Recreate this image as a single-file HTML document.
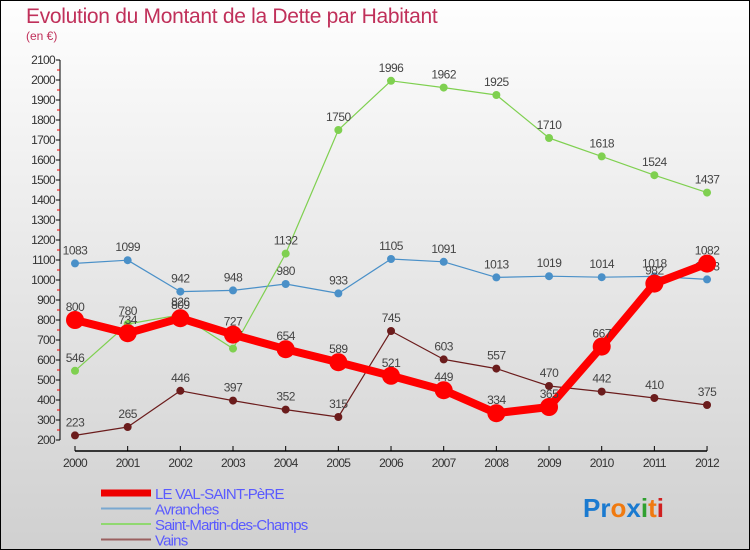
<!DOCTYPE html>
<html><head><meta charset="utf-8"><style>
body{margin:0}
#c{width:750px;height:550px;position:relative;box-sizing:border-box;border:1px solid #000;background:linear-gradient(#fefefe,#d0d0d0);font-family:"Liberation Sans",sans-serif;overflow:hidden}
</style></head><body>
<div id="c">
<svg id="s" width="748" height="548" style="position:absolute;left:0;top:0"></svg>
</div>
<script>
const years=[2000,2001,2002,2003,2004,2005,2006,2007,2008,2009,2010,2011,2012];
const valSaintPere=[800,734,809,727,654,589,521,449,334,365,667,982,1082];
const avranches=[1083,1099,942,948,980,933,1105,1091,1013,1019,1014,1018,1003];
const saintMartin=[546,780,826,657,1132,1750,1996,1962,1925,1710,1618,1524,1437];
const vains=[223,265,446,397,352,315,745,603,557,470,442,410,375];
const yTicks=[200,300,400,500,600,700,800,900,1000,1100,1200,1300,1400,1500,1600,1700,1800,1900,2000,2100];
const ns="http://www.w3.org/2000/svg",svg=document.getElementById('s');
const X=i=>74+i*52.67, Y=v=>439-(v-200)*0.2;
function mk(t,a,p){const e=document.createElementNS(ns,t);for(const k in a)e.setAttribute(k,a[k]);(p||svg).appendChild(e);return e;}
let t=mk('text',{x:25,y:22,'font-size':21,fill:'#c0305a','letter-spacing':'-0.3'});t.textContent='Evolution du Montant de la Dette par Habitant';

t=mk('text',{x:25,y:39,'font-size':12,fill:'#c0305a'});t.textContent='(en €)';

let a=mk('line',{x1:59,y1:Y(2100),x2:59,y2:Y(200),stroke:'#000'});

yTicks.forEach(v=>{mk('line',{x1:55,x2:59,y1:Y(v),y2:Y(v),stroke:'#000'});
 if(v<2100)mk('line',{x1:56,x2:59,y1:Y(v+50),y2:Y(v+50),stroke:'#e00'});
 const l=mk('text',{x:54,y:Y(v)+4,'font-size':12,'text-anchor':'end',fill:'#333','letter-spacing':'-0.7'});l.textContent=v;
 });
a=mk('line',{x1:74,y1:450,x2:706,y2:450,stroke:'#000','stroke-width':1.5});

years.forEach((y,i)=>{mk('line',{x1:X(i),x2:X(i),y1:445,y2:450,stroke:'#000'});
 const l=mk('text',{x:X(i),y:466,'font-size':12,'text-anchor':'middle',fill:'#333','letter-spacing':'-0.7'});l.textContent=y;
 });
function series(d,col,w,r,name){
 const g=mk('g',{});
 mk('polyline',{points:d.map((v,i)=>X(i)+','+Y(v)).join(' '),fill:'none',stroke:col,'stroke-width':w,'stroke-linejoin':'round'},g);
 d.forEach((v,i)=>{const c=mk('circle',{cx:X(i),cy:Y(v),r:r,fill:col},g);
  
  const l=mk('text',{x:X(i),y:Y(v)-9,'font-size':12,'text-anchor':'middle',fill:'#444','letter-spacing':'-0.5'},g);l.textContent=v;
  });
}
series(vains,'#6b1c1c',1.2,4,'vains-series');
series(avranches,'#4a90c8',1.2,4,'avranches-series');
series(saintMartin,'#7fd050',1.2,4,'saint-martin-series');
series(valSaintPere,'#f00',8,9,'val-saint-pere-series');
const leg=[['LE VAL-SAINT-PèRE','#e00',7],['Avranches','#7aa8d0',2],['Saint-Martin-des-Champs','#90d870',2],['Vains','#9a6060',2]];
leg.forEach((l,i)=>{const y=492+i*15.5;const g=mk('g',{});
 mk('line',{x1:100,x2:150,y1:y,y2:y,stroke:l[1],'stroke-width':l[2]},g);
 const tx=mk('text',{x:154,y:y+6,'font-size':15,fill:'#5a5aff','letter-spacing':'-0.8'},g);tx.textContent=l[0];});
const logo=mk('text',{x:582,y:516,'font-size':26,'font-weight':'bold'});
[['Pr','#1a7ad0'],['o','#f07a10'],['x','#1a7ad0'],['i','#30a030'],['t','#f07a10'],['i','#d02020']].forEach(p=>{const s=mk('tspan',{fill:p[1]},logo);s.textContent=p[0];});
</script>
</body></html>
